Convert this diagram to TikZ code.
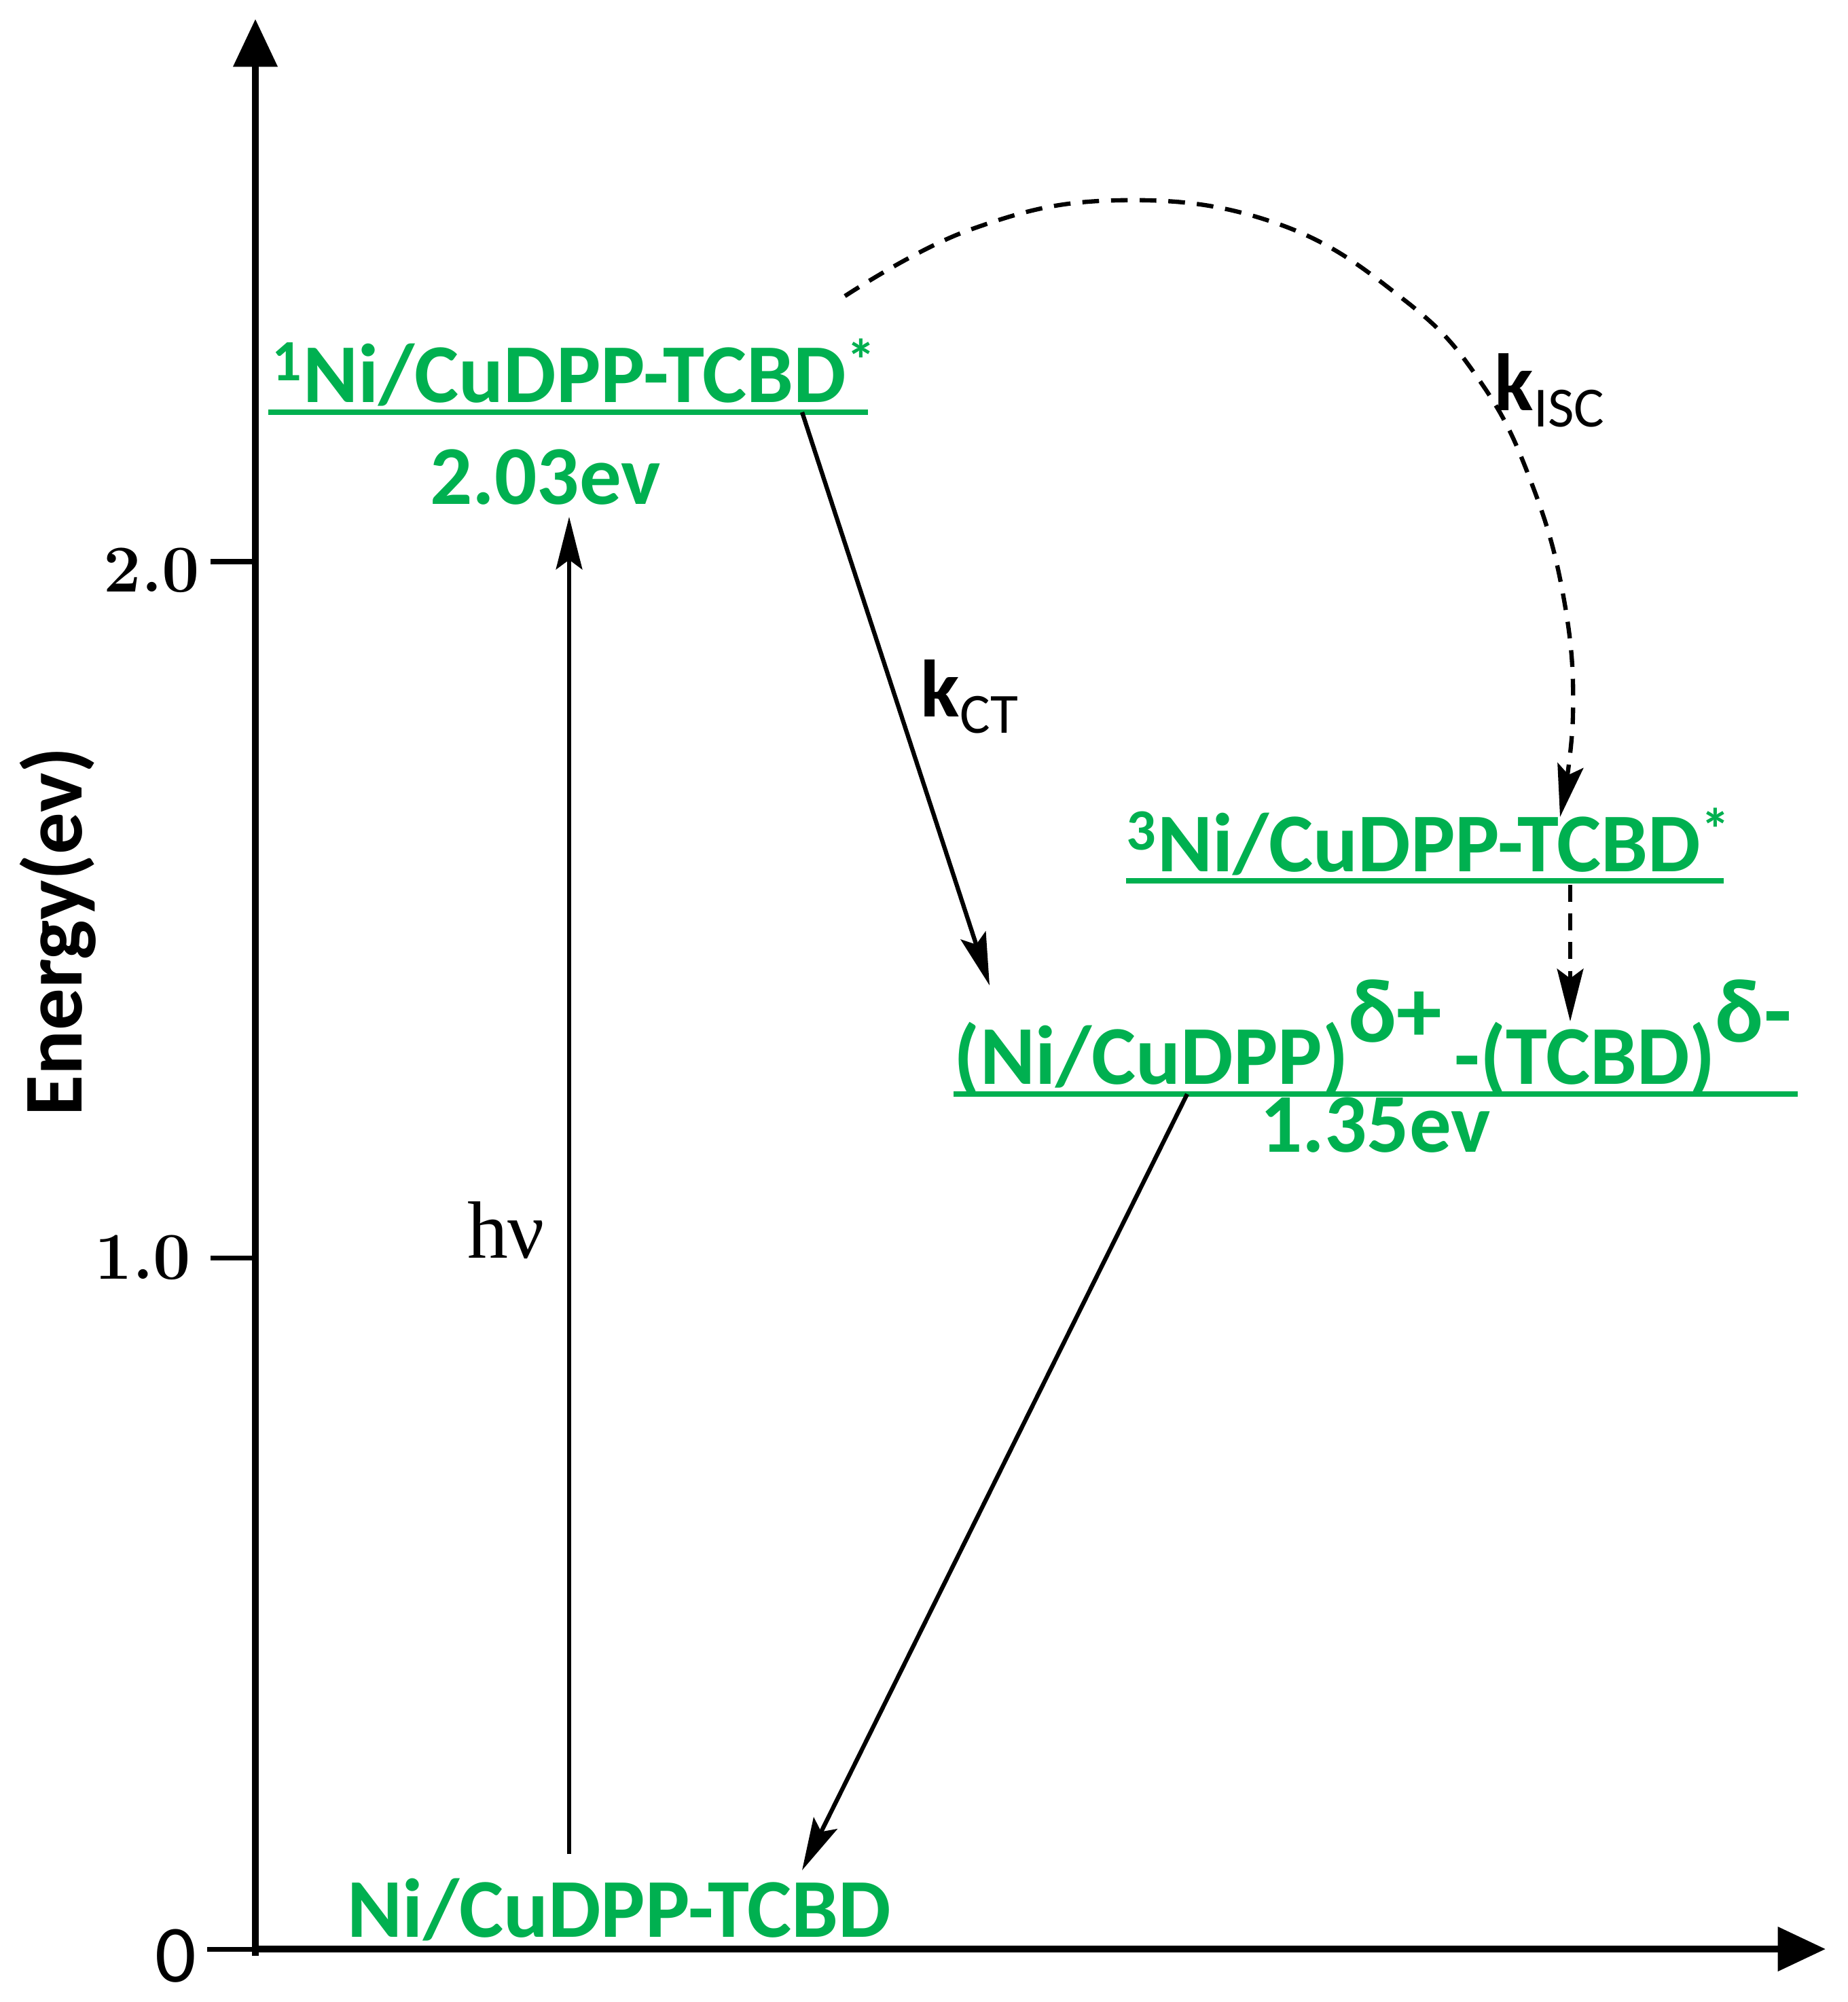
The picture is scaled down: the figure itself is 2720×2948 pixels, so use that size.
\documentclass[tikz,border=0pt]{standalone}
\usepackage{fontspec}
\newfontfamily\calfont{Carlito}
\newfontfamily\tnrfont{Liberation Serif}
\usetikzlibrary{arrows.meta}
\definecolor{lvgreen}{RGB}{0,176,80}
\begin{document}
\begin{tikzpicture}[x=0.01cm,y=-0.01cm,
  axis/.style={line width=2.8pt,-{Triangle[length=20pt,width=18pt]}},
  tickline/.style={line width=2pt},
  level/.style={lvgreen,line width=2.2pt},
  gtext/.style={text=lvgreen,inner sep=0pt,font=\calfont\bfseries\fontsize{35}{35}\selectfont},
  blabel/.style={inner sep=0pt,font=\calfont\bfseries\fontsize{34}{34}\selectfont},
  ticklabel/.style={inner sep=0pt,font=\bfseries\fontsize{28}{28}\selectfont},
  trans/.style={line width=1.8pt,-{Stealth[length=22pt,width=11pt,inset=4pt]}},
  dtrans/.style={trans,dash pattern=on 7pt off 5pt}]
\useasboundingbox (0,0) rectangle (2720,2948);
% axes
\coordinate (O) at (376,2870);
\coordinate (Ytop) at (376,28);
\coordinate (Xend) at (2688,2870);
\draw[axis] (376,2880) -- (Ytop);
\draw[axis] (O) -- (Xend);
% ticks
\coordinate (t2a) at (310,827); \coordinate (t2b) at (376,827);
\coordinate (t1a) at (310,1852); \coordinate (t1b) at (376,1852);
\coordinate (t0a) at (305,2870);
\draw[tickline] (t2a) -- (t2b);
\draw[tickline] (t1a) -- (t1b);
\draw[tickline] (t0a) -- (O);
\node[ticklabel,anchor=east] (lab2) at (295,840) {2.0};
\node[ticklabel,anchor=east] (lab1) at (282,1852) {1.0};
\node[inner sep=0pt,font=\calfont\fontsize{34}{34}\selectfont] (lab0) at (259,2880) {0};
\node[blabel,rotate=90,font=\calfont\bfseries\fontsize{35}{35}\selectfont] (ylab) at (85,1372) {Energy(ev)};
% level 1
\node[gtext,anchor=base west] (S1) at (400,592) {\textsuperscript{1}Ni/CuDPP-TCBD\textsuperscript{*}};
\draw[level] (395,607) coordinate (S1a) -- (1278,607) coordinate (S1b);
\node[gtext,anchor=base] (E1) at (803,742) {2.03ev};
% level 3
\node[gtext,anchor=base west] (T1) at (1658,1283) {\textsuperscript{3}Ni/CuDPP-TCBD\textsuperscript{*}};
\draw[level] (1658,1297) coordinate (T1a) -- (2538,1297) coordinate (T1b);
% CT level
\node[gtext,anchor=base west] (CT) at (1404,1596) {(Ni/CuDPP)\raisebox{0.5em}{\fontsize{38}{38}\selectfont δ+}\hspace{0.15em}-(TCBD)\raisebox{0.5em}{\fontsize{38}{38}\selectfont δ-}};
\draw[level] (1404,1611) coordinate (CTa) -- (2647,1611) coordinate (CTb);
\node[gtext,anchor=base] (E2) at (2025,1696) {1.35ev};
% ground
\node[gtext,anchor=base west] (G) at (511,2852) {Ni/CuDPP-TCBD};
% transitions
\coordinate (hvs) at (838,2730);
\coordinate (hve) at (838,761);
\draw[trans] (hvs) -- (hve);
\node[inner sep=0pt,font=\tnrfont\fontsize{34}{34}\selectfont] (hv) at (745,1812) {hν};
\coordinate (kct1) at (1181,607);
\coordinate (kct2) at (1457,1451);
\draw[trans] (kct1) -- (kct2);
\node[blabel,anchor=base west] (kctl) at (1355,1055) {k\textsubscript{\fontseries{m}\selectfont CT}};
\coordinate (ret1) at (1748,1611);
\coordinate (ret2) at (1181,2754);
\draw[trans] (ret1) -- (ret2);
\coordinate (isc1) at (1244,436);
\coordinate (isc2) at (2297,1203);
\draw[dtrans] plot[smooth,tension=0.7] coordinates {(isc1) (1429,338) (1645,295) (1880,329) (2068,442) (2181,564) (2256,714) (2303,884) (2316,1053) (isc2)};
\node[blabel,anchor=base west] (kiscl) at (2200,604) {k\textsubscript{\fontseries{m}\selectfont ISC}};
\coordinate (v1) at (2312,1303);
\coordinate (v2) at (2312,1504);
\draw[dtrans] (v1) -- (v2);
\end{tikzpicture}
\end{document}
